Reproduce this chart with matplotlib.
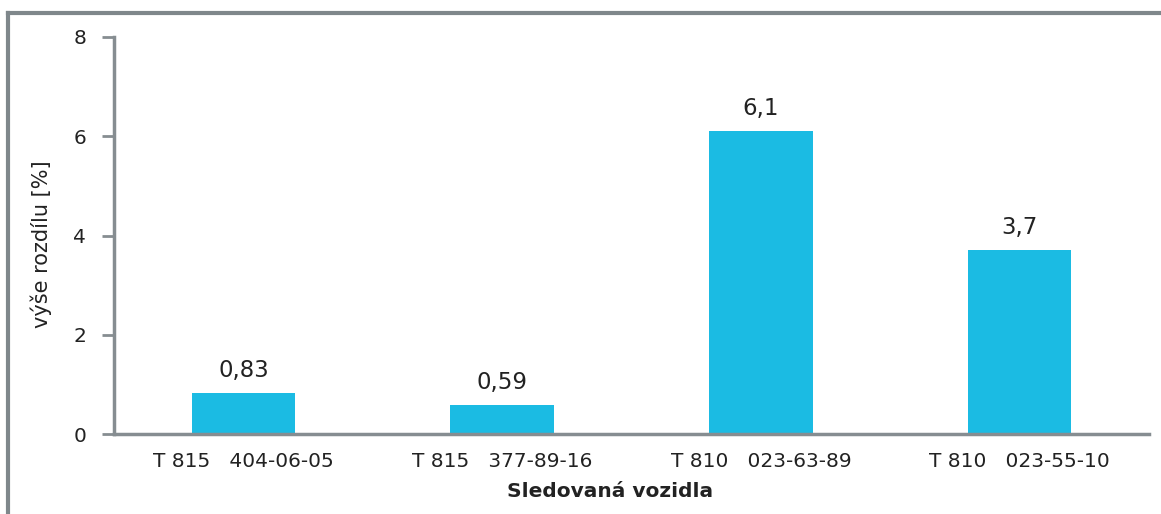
import matplotlib.pyplot as plt
from matplotlib.lines import Line2D

vozidla = ['T 815   404-06-05', 'T 815   377-89-16', 'T 810   023-63-89', 'T 810   023-55-10']
rozdil = [0.83, 0.59, 6.1, 3.7]
popisky = ['0,83', '0,59', '6,1', '3,7']

plt.rcParams['font.family'] = ['DejaVu Sans']

fig = plt.figure(figsize=(11.61, 5.14), dpi=100)
ax = fig.add_axes([114 / 1161, 80 / 514, 1035 / 1161, 397 / 514])

seda = '#868d91'
text_barva = '#222222'
pozice = [i + 0.5 for i in range(len(vozidla))]
ax.bar(pozice, rozdil, width=0.4, color='#1bbbe3')

for x, v, t in zip(pozice, rozdil, popisky):
    ax.text(x, v + 0.22, t, ha='center', va='bottom', fontsize=16.5, color=text_barva)

ax.set_xlim(0, 4)
ax.set_ylim(0, 8)
ax.set_yticks([0, 2, 4, 6, 8])
ax.set_xticks(pozice)
ax.set_xticklabels(vozidla, fontsize=14.5, color=text_barva)
ax.tick_params(axis='y', labelsize=14.5, colors=text_barva, length=9, width=2, color=seda, pad=11)
ax.tick_params(axis='x', length=0, pad=13)

for s in ['top', 'right']:
    ax.spines[s].set_visible(False)
for s in ['left', 'bottom']:
    ax.spines[s].set_color(seda)
    ax.spines[s].set_linewidth(2.5)

ax.set_ylabel('výše rozdílu [%]', fontsize=15, color=text_barva)
ax.set_xlabel('Sledovaná vozidla', fontsize=14.5, fontweight='bold', color=text_barva)
ax.yaxis.set_label_coords(-0.060, 0.479)
ax.xaxis.set_label_coords(0.479, -0.122)

# ramecek kolem grafu
fig.add_artist(Line2D([8 / 1161, 1], [1 - 13 / 514, 1 - 13 / 514], color='#7f878b', lw=3, transform=fig.transFigure))
fig.add_artist(Line2D([8 / 1161, 8 / 1161], [0, 1 - 13 / 514], color='#7f878b', lw=3, transform=fig.transFigure))

fig.savefig('out.png', dpi=100)
